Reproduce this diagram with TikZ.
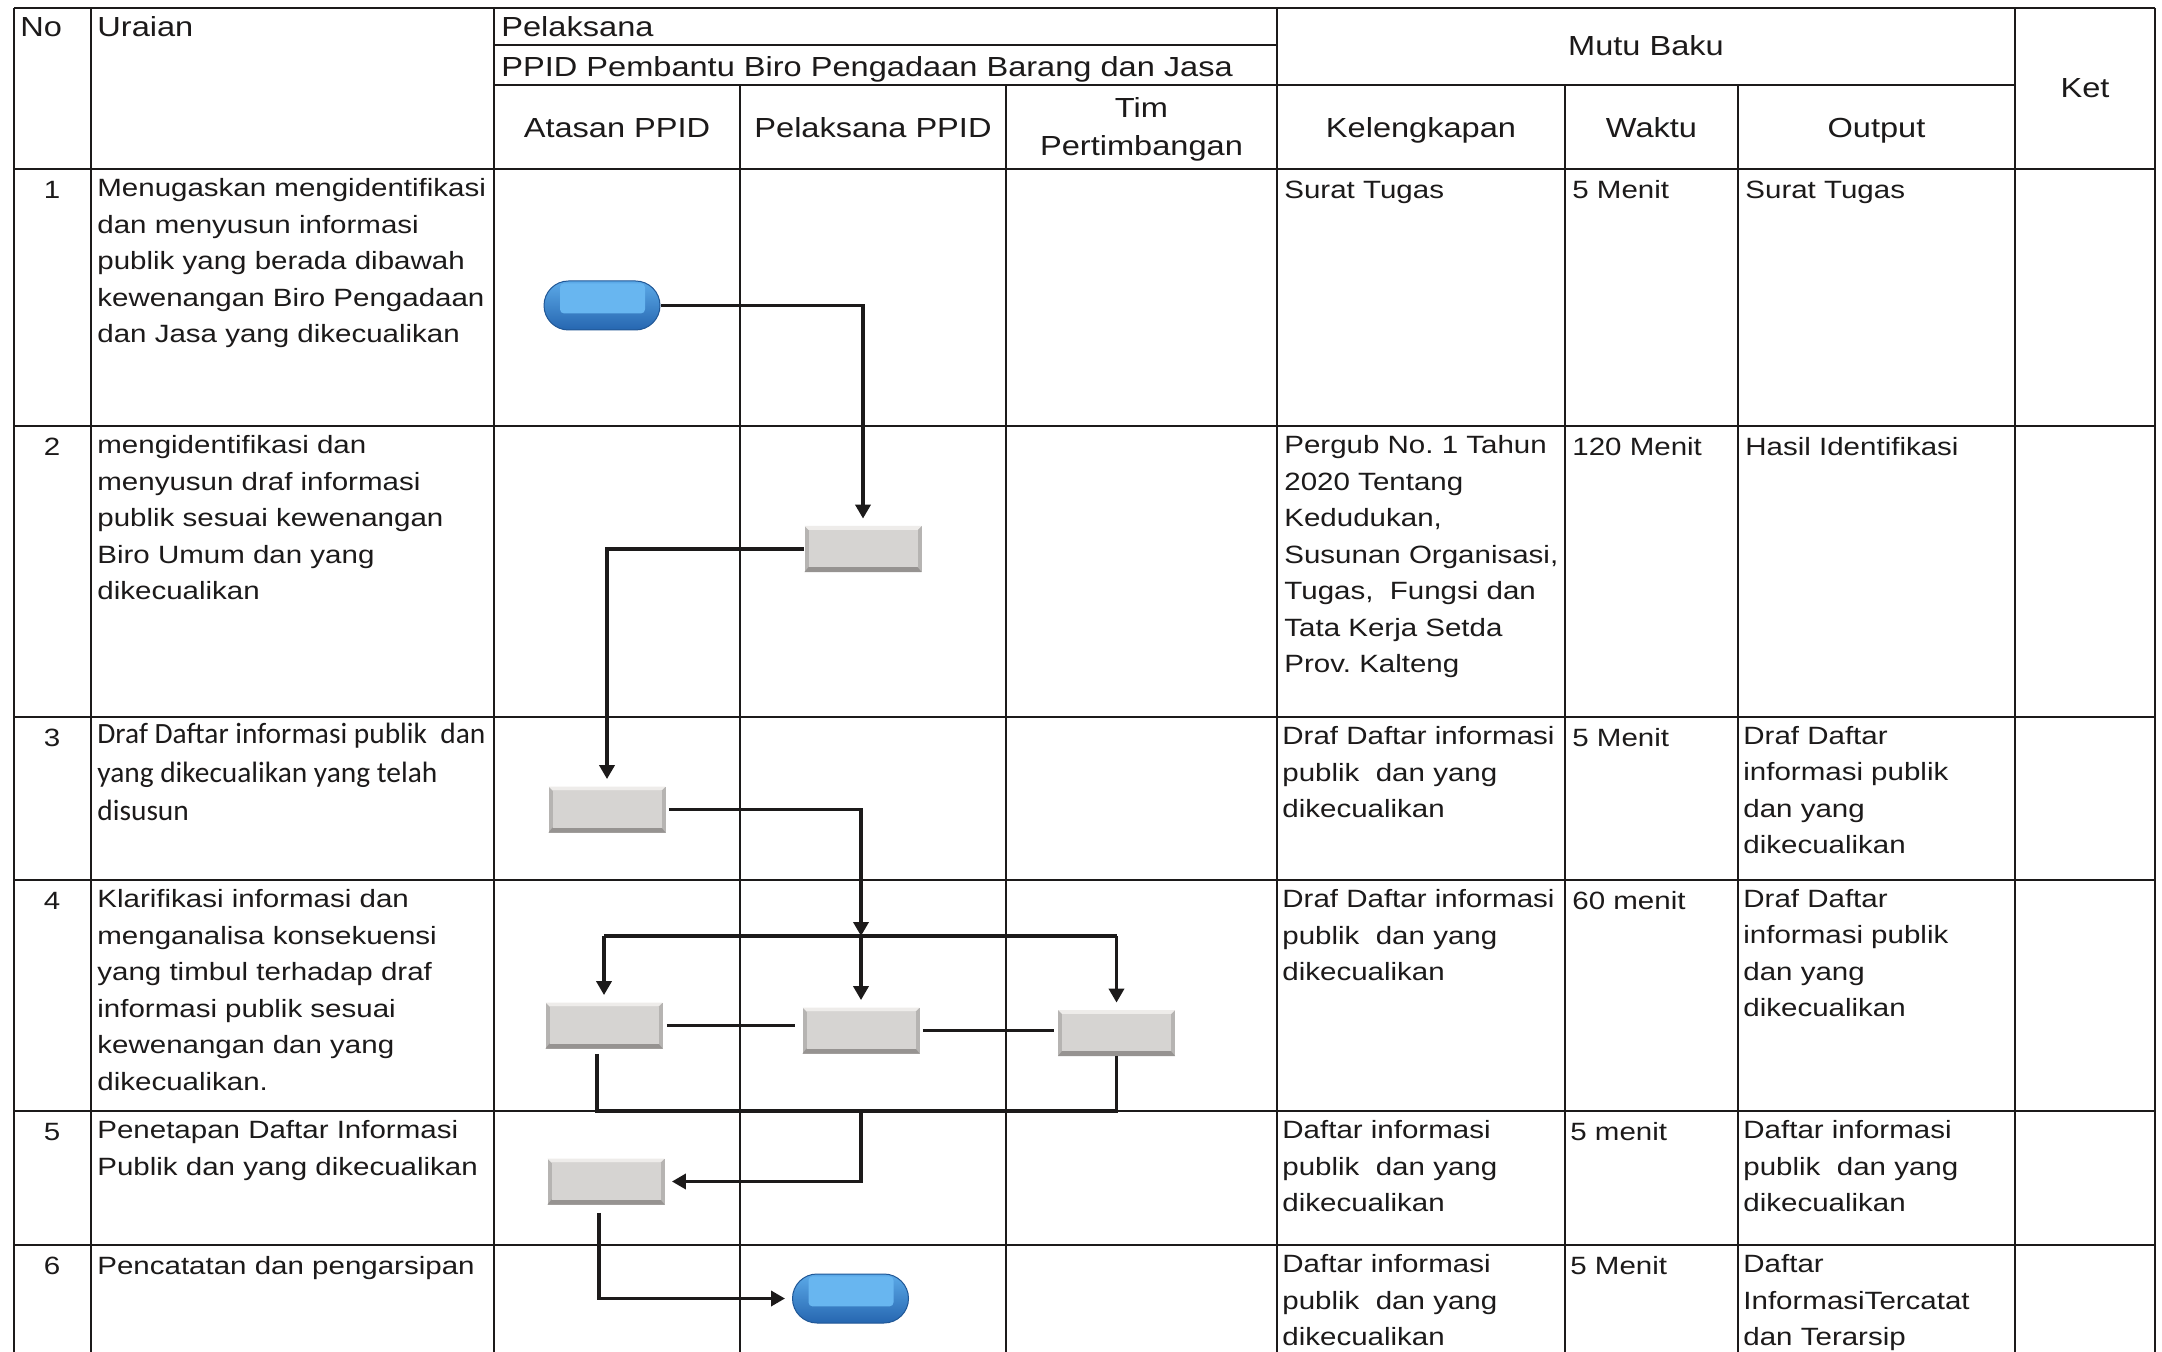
\documentclass[tikz,border=0pt]{standalone}
\usepackage{fontspec}
\setmainfont{Liberation Sans}[FakeStretch=1.18]
\newfontfamily\calfont{Carlito}
\usetikzlibrary{arrows.meta,calc}

\definecolor{inkline}{RGB}{28,26,26}
\definecolor{pilltop}{RGB}{92,170,232}
\definecolor{pillbot}{RGB}{38,102,176}
\definecolor{pillhi}{RGB}{104,182,240}
\definecolor{boxface}{RGB}{214,212,210}
\definecolor{boxlight}{RGB}{238,236,234}
\definecolor{boxshade}{RGB}{150,147,145}
\definecolor{boxside}{RGB}{182,180,178}

\newcommand\bodyfont{\fontsize{12.5pt}{18.25pt}\selectfont}
\newcommand\headfont{\fontsize{13.8pt}{19.3pt}\selectfont}
\newcommand\narrowfont{\calfont\fontsize{14.7pt}{19.2pt}\selectfont}

\begin{document}
\frenchspacing
\begin{tikzpicture}[x=0.5pt,y=-0.5pt,
  tableline/.style={draw=inkline,line width=1pt},
  headtext/.style={inner sep=0pt,font=\headfont,text=inkline},
  celltext/.style={anchor=north west,inner sep=0pt,align=left,font=\bodyfont,
    text=inkline,execute at begin node={\rule{0pt}{10pt}}},
  numtext/.style={celltext,anchor=north,align=center},
  calibtext/.style={celltext,font=\narrowfont,execute at begin node={\rule{0pt}{11.5pt}}},
  flowline/.style={draw=inkline,line width=1.8pt},
  arrowed/.style={-{Triangle[length=7pt,width=7.5pt]},shorten >=3.5pt},
  arrowend/.style={-{Triangle[length=7pt,width=7.5pt]}},
  terminal/.style={minimum width=58pt,minimum height=24.5pt,inner sep=0pt,
    rounded corners=12.25pt,top color=pilltop,bottom color=pillbot,
    draw=pillbot!85!black,line width=0.5pt,
    path picture={
      \fill[pillhi,rounded corners=2pt]
        ([shift={(8pt,-1.2pt)}]path picture bounding box.north west) rectangle
        ([shift={(-7.5pt,8.3pt)}]path picture bounding box.south east);
    }},
  procbox/.style={minimum width=58.5pt,minimum height=23pt,inner sep=0pt,
    fill=boxside,
    path picture={
      \coordinate (bnw) at (path picture bounding box.north west);
      \coordinate (bne) at (path picture bounding box.north east);
      \coordinate (bsw) at (path picture bounding box.south west);
      \coordinate (bse) at (path picture bounding box.south east);
      \fill[boxlight] (bnw) -- (bne) -- ([shift={(-2pt,-2pt)}]bne) -- ([shift={(2pt,-2pt)}]bnw) -- cycle;
      \fill[boxshade] (bsw) -- (bse) -- ([shift={(-2pt,2.5pt)}]bse) -- ([shift={(2pt,2.5pt)}]bsw) -- cycle;
      \fill[boxface] ([shift={(2pt,-2pt)}]bnw) rectangle ([shift={(-2pt,2.5pt)}]bse);
    }}
]
\useasboundingbox[fill=white] (0,0) rectangle (2162,1352);

% ---------- table rules ----------
\foreach \y in {8,169,426,717,880,1111,1245}
  \draw[tableline] (14,\y) -- (2155,\y);
\draw[tableline] (494,45.5) -- (1277,45.5);
\draw[tableline] (494,85.5) -- (2015,85.5);
\foreach \x in {14,90.5,494,1277,2015,2155}
  \draw[tableline] (\x,8) -- (\x,1352);
\foreach \x in {740,1006,1565,1738}
  \draw[tableline] (\x,85.5) -- (\x,1352);

% ---------- header ----------
\node[headtext,anchor=base west] (hno) at (20,37) {No};
\node[headtext,anchor=base west] (hur) at (97,37) {Uraian};
\node[headtext,anchor=base west] (hpel) at (501,37) {Pelaksana};
\node[headtext,anchor=base west] (hppid) at (501,77) {PPID Pembantu Biro Pengadaan Barang dan Jasa};
\node[headtext,anchor=base] (hmutu) at (1646,56) {Mutu Baku};
\node[headtext,anchor=base] (hket) at (2085,98) {Ket};
\node[headtext,anchor=base] (hata) at (617,138) {Atasan PPID};
\node[headtext,anchor=base] (hpp) at (873,138) {Pelaksana PPID};
\node[headtext,anchor=north,align=center,execute at begin node={\rule{0pt}{11pt}}] (htim) at (1141.5,97) {Tim\\Pertimbangan};
\node[headtext,anchor=base] (hkel) at (1421,138) {Kelengkapan};
\node[headtext,anchor=base] (hwak) at (1651.5,138) {Waktu};
\node[headtext,anchor=base] (hout) at (1876.5,138) {Output};

% ---------- row 1 ----------
\node[numtext] (n1) at (52,178) {1};
\node[celltext] (u1) at (97,178) {Menugaskan mengidentifikasi\\dan menyusun informasi\\publik yang berada dibawah\\kewenangan Biro Pengadaan\\dan Jasa yang dikecualikan};
\node[celltext] (k1) at (1284,178) {Surat Tugas};
\node[celltext] (w1) at (1572,178) {5 Menit};
\node[celltext] (o1) at (1745,178) {Surat Tugas};

% ---------- row 2 ----------
\node[numtext] (n2) at (52,435) {2};
\node[celltext] (u2) at (97,435) {mengidentifikasi dan\\menyusun draf informasi\\publik sesuai kewenangan\\Biro Umum dan yang\\dikecualikan};
\node[celltext] (k2) at (1284,435) {Pergub No. 1 Tahun\\2020 Tentang\\Kedudukan,\\Susunan Organisasi,\\Tugas,~ Fungsi dan\\Tata Kerja Setda\\Prov. Kalteng};
\node[celltext] (w2) at (1572,435) {120 Menit};
\node[celltext] (o2) at (1745,435) {Hasil Identifikasi};

% ---------- row 3 ----------
\node[numtext] (n3) at (52,726) {3};
\node[calibtext] (u3) at (97,723) {Draf Daftar informasi publik~ dan\\yang dikecualikan yang telah\\disusun};
\node[celltext] (k3) at (1282,726) {Draf Daftar informasi\\publik~ dan yang\\dikecualikan};
\node[celltext] (w3) at (1572,726) {5 Menit};
\node[celltext] (o3) at (1743,726) {Draf Daftar\\informasi publik\\dan yang\\dikecualikan};

% ---------- row 4 ----------
\node[numtext] (n4) at (52,889) {4};
\node[celltext] (u4) at (97,889) {Klarifikasi informasi dan\\menganalisa konsekuensi\\yang timbul terhadap draf\\informasi publik sesuai\\kewenangan dan yang\\dikecualikan.};
\node[celltext] (k4) at (1282,889) {Draf Daftar informasi\\publik~ dan yang\\dikecualikan};
\node[celltext] (w4) at (1572,889) {60 menit};
\node[celltext] (o4) at (1743,889) {Draf Daftar\\informasi publik\\dan yang\\dikecualikan};

% ---------- row 5 ----------
\node[numtext] (n5) at (52,1120) {5};
\node[celltext] (u5) at (97,1120) {Penetapan Daftar Informasi\\Publik dan yang dikecualikan};
\node[celltext] (k5) at (1282,1120) {Daftar informasi\\publik~ dan yang\\dikecualikan};
\node[celltext] (w5) at (1570,1120) {5 menit};
\node[celltext] (o5) at (1743,1120) {Daftar informasi\\publik~ dan yang\\dikecualikan};

% ---------- row 6 ----------
\node[numtext] (n6) at (52,1254) {6};
\node[celltext] (u6) at (97,1254) {Pencatatan dan pengarsipan};
\node[celltext] (k6) at (1282,1254) {Daftar informasi\\publik~ dan yang\\dikecualikan};
\node[celltext] (w6) at (1570,1254) {5 Menit};
\node[celltext] (o6) at (1743,1254) {Daftar\\InformasiTercatat\\dan Terarsip};

% ---------- flow shapes ----------
\node[terminal] (p1) at (602,305.5) {};
\node[procbox] (b2) at (863,549) {};
\node[procbox] (b3) at (607,809.5) {};
\node[procbox] (b4a) at (604,1025.5) {};
\node[procbox] (b4b) at (861,1030.5) {};
\node[procbox] (b4c) at (1116.5,1033) {};
\node[procbox] (b5) at (606,1181.5) {};
\node[terminal] (p2) at (850.5,1298.5) {};

\coordinate (fk) at (861,936);
\coordinate (fl) at (604,936);
\coordinate (fr) at (1116.5,936);
\coordinate (mg) at (861,1111);
\coordinate (ml) at (597,1111);
\coordinate (mr) at (1116.5,1111);

% ---------- connectors ----------
\draw[flowline,arrowed] (p1.east) -| (b2.north);
\draw[flowline,arrowed] (b2.west) -| (b3.north);
\draw[flowline,arrowend] ([xshift=1.5pt]b3.east) -| (fk);
\draw[flowline] (fl) -- (fr);
\draw[flowline,arrowed] (fl) -- (b4a.north);
\draw[flowline,arrowed] (fk) -- (b4b.north);
\draw[flowline,arrowed] (fr) -- (b4c.north);
\draw[flowline,shorten <=2pt,shorten >=3.5pt] (b4a.east) -- (b4a.east -| b4b.west);
\draw[flowline,shorten <=1.5pt,shorten >=2pt] (b4b.east) -- (b4b.east -| b4c.west);
\draw[flowline] ([yshift=-2.5pt]b4a.south -| ml) -- (ml) -- (mr) -- (b4c.south);
\draw[flowline,arrowed] (mg) |- (b5.east);
\draw[flowline,arrowed,shorten <=4pt] ([xshift=-3.5pt]b5.south) |- (p2.west);
\end{tikzpicture}
\end{document}
